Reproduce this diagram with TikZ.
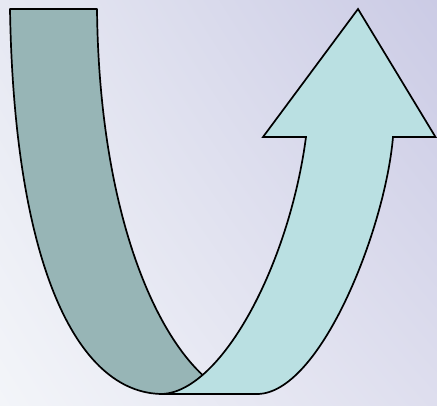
\documentclass[tikz,border=0pt]{standalone}
\usepackage{tikz}
\usepackage{xcolor}
\usetikzlibrary{shadings}
\definecolor{bandDark}{HTML}{97B5B6}
\definecolor{bandLight}{HTML}{BAE0E2}
\definecolor{bgUL}{HTML}{E6E8F2}
\definecolor{bgUR}{HTML}{CBCBE5}
\definecolor{bgLL}{HTML}{F3F5F9}
\definecolor{bgLR}{HTML}{DEDEEE}

\begin{document}
\begin{tikzpicture}[x=1pt,y=-1pt]
\shade[upper left=bgUL,upper right=bgUR,lower left=bgLL,lower right=bgLR] (0,0) rectangle (437,405);
\useasboundingbox (0,0) rectangle (437,405);
% dark band, going down
\draw[fill=bandDark,line width=1.7pt,line join=round] (10,9) .. controls (14,260) and (75,394) .. (163,394)
  -- (215,394) -- (207,379) .. controls (150,330) and (99,200) .. (97,9) -- cycle;
% light band with the arrow head
\draw[fill=bandLight,line width=1.7pt,line join=miter] (163,394) -- (257,394)
  .. controls (320,394) and (385,230) .. (393,137) -- (435.5,137) -- (358,9) -- (263,137) -- (306,137)
  .. controls (289,265) and (222,390) .. (163,394) -- cycle;
\end{tikzpicture}
\end{document}
